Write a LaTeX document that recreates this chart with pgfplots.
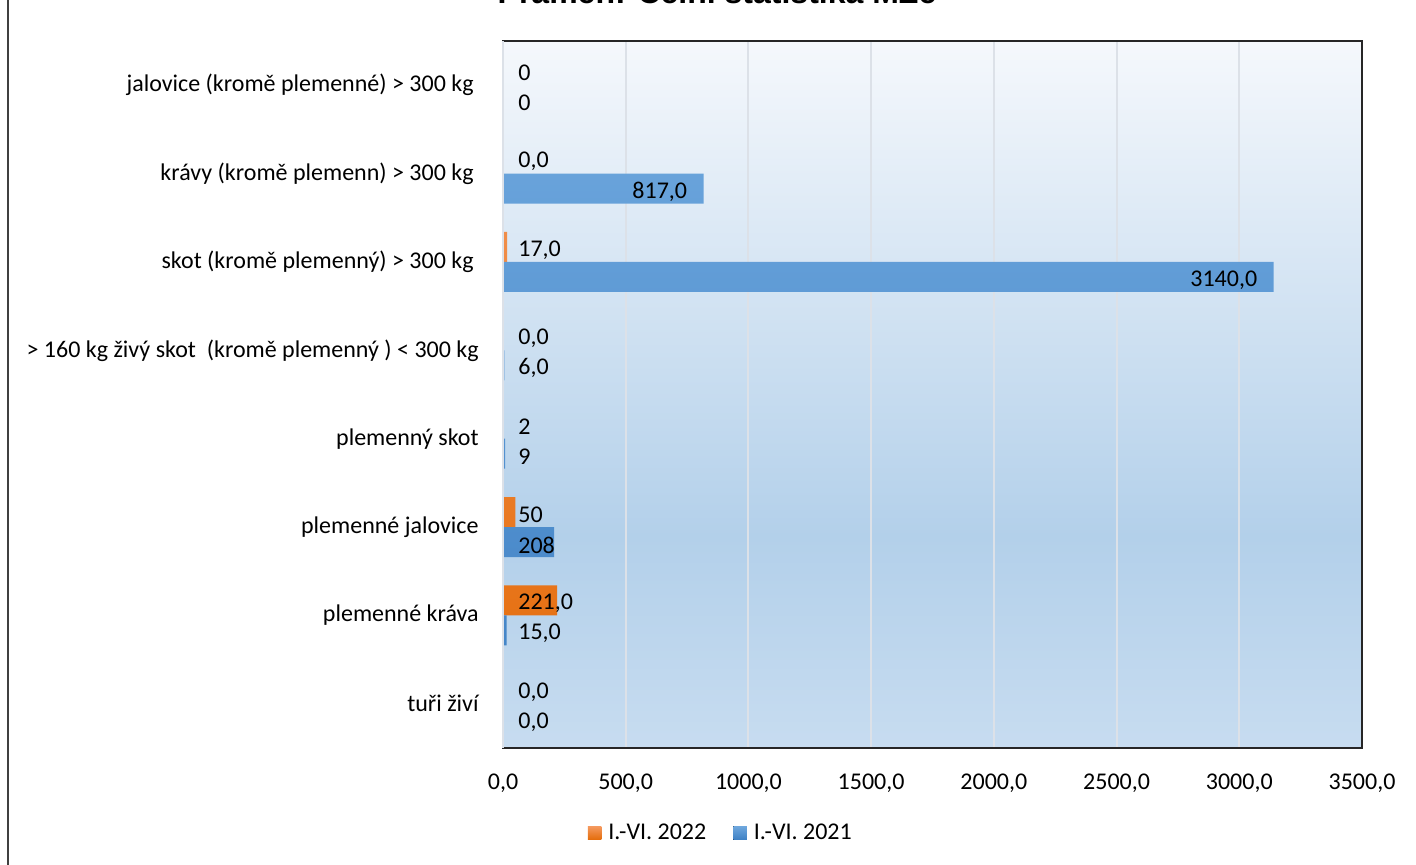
\documentclass[border=0pt]{standalone}
\usepackage{pgfplots}
\pgfplotsset{compat=1.18}
\usepackage{pgfplotstable}
\usepackage{fontspec}
\setmainfont{Carlito}
\newfontfamily\titlefont{Liberation Sans}

\definecolor{oTop}{HTML}{F59A60}
\definecolor{oBot}{HTML}{E46C0A}
\definecolor{bTop}{HTML}{6FA8DE}
\definecolor{bBot}{HTML}{3E80C4}
\definecolor{bgtop}{HTML}{F5F8FC}
\definecolor{bgmid}{HTML}{B3D0EA}
\definecolor{bgbot}{HTML}{C7DCF0}
\definecolor{gridc}{HTML}{DCE1E8}

\pgfdeclareverticalshading{plotbg}{100bp}{color(0bp)=(bgbot); color(25bp)=(bgbot); color(40bp)=(bgmid); color(75bp)=(bgtop); color(100bp)=(bgtop)}

% y: category index from bottom; o = I.-VI. 2022, b = I.-VI. 2021
% olx/blx: where the value label starts
\pgfplotstableread{
y o    olab  olx  b    blab   blx
0 0    0,0   61   0    0,0    61
1 221  221,0 61   15   15,0   61
2 50   50    61   208  208    61
3 2    2     61   9    9      61
4 0    0,0   61   6    6,0    61
5 17   17,0  61   3140 3140,0 2799
6 0    0,0   61   817  817,0  526
7 0    0     61   0    0      61
}\cattle

\newcommand{\lbl}{\fontsize{12bp}{14bp}\selectfont}

\begin{document}
\begin{tikzpicture}
\useasboundingbox (0,0) rectangle (708bp,432.5bp);
\draw[line width=1.2bp, black!75] (4bp,0) -- (4bp,432.5bp);
\node[anchor=base, inner sep=0pt, font=\titlefont\bfseries\fontsize{16bp}{19bp}\selectfont]
  at (358.5bp,430.5bp) {Pramen: Celní statistika MZe};
\begin{axis}[
    at={(251.5bp,58.5bp)}, anchor=south west,
    scale only axis, width=429.5bp, height=353.5bp,
    xmin=0, xmax=3500, ymin=-0.5, ymax=7.5,
    xtick={0,500,...,3500},
    ytick={0,...,7},
    yticklabels={tuři živí, plemenné kráva, plemenné jalovice, plemenný skot,
      > 160 kg živý skot\ \ (kromě plemenný ) < 300 kg,
      skot (kromě plemenný) > 300 kg\hspace*{2.5bp},
      krávy (kromě plemenn) > 300 kg\hspace*{2.5bp},
      jalovice (kromě plemenné) > 300 kg\hspace*{2.5bp}},
    major tick length=0pt,
    xmajorgrids, ymajorgrids=false,
    grid style={gridc, line width=1bp},
    axis background/.style={shading=plotbg},
    axis line style={black!85, line width=1.1bp},
    ticklabel style={font=\lbl},
    xticklabel style={anchor=base, yshift=-21bp},
    yticklabel style={anchor=east, inner sep=0pt, xshift=-12bp},
    /pgf/number format/.cd, fixed, fixed zerofill, precision=1, use comma, 1000 sep={},
    assume math mode=true,
    /pgfplots/.cd,
    legend columns=2,
    legend style={at={(0.2565,-0.12)}, anchor=center, draw=none, fill=none,
      font=\lbl, nodes={inner xsep=3.5bp},
      /tikz/every even column/.append style={column sep=10bp}},
    every node near coord/.style={anchor=west, inner sep=0pt, font=\lbl, text=black},
    clip=false,
]
\addplot[xbar, forget plot, bar width=15bp, bar shift=7.5bp, draw=none, top color=oTop, bottom color=oBot]
  table[x=o, y=y] {\cattle};
\addplot[xbar, forget plot, bar width=15bp, bar shift=-7.5bp, draw=none, top color=bTop, bottom color=bBot]
  table[x=b, y=y] {\cattle};
\addplot[xbar, bar width=15bp, bar shift=7.5bp, draw=none, fill=none, forget plot,
  nodes near coords, point meta=explicit symbolic,
  every node near coord/.append style={yshift=6bp}]
  table[x=olx, y=y, meta=olab] {\cattle};
\addplot[xbar, bar width=15bp, bar shift=-7.5bp, draw=none, fill=none, forget plot,
  nodes near coords, point meta=explicit symbolic,
  every node near coord/.append style={yshift=-9bp}]
  table[x=blx, y=y, meta=blab] {\cattle};
\addlegendimage{legend image code/.code={\fill[top color=oTop, bottom color=oBot, draw=none] (0bp,-3.4bp) rectangle (6.8bp,3.4bp);}}
\addlegendentry{I.-VI. 2022}
\addlegendimage{legend image code/.code={\fill[top color=bTop, bottom color=bBot, draw=none] (0bp,-3.4bp) rectangle (6.8bp,3.4bp);}}
\addlegendentry{I.-VI. 2021}
\draw[gridc, line width=1.2bp] (rel axis cs:0,0) -- (rel axis cs:0,1);
\end{axis}
\end{tikzpicture}
\end{document}
